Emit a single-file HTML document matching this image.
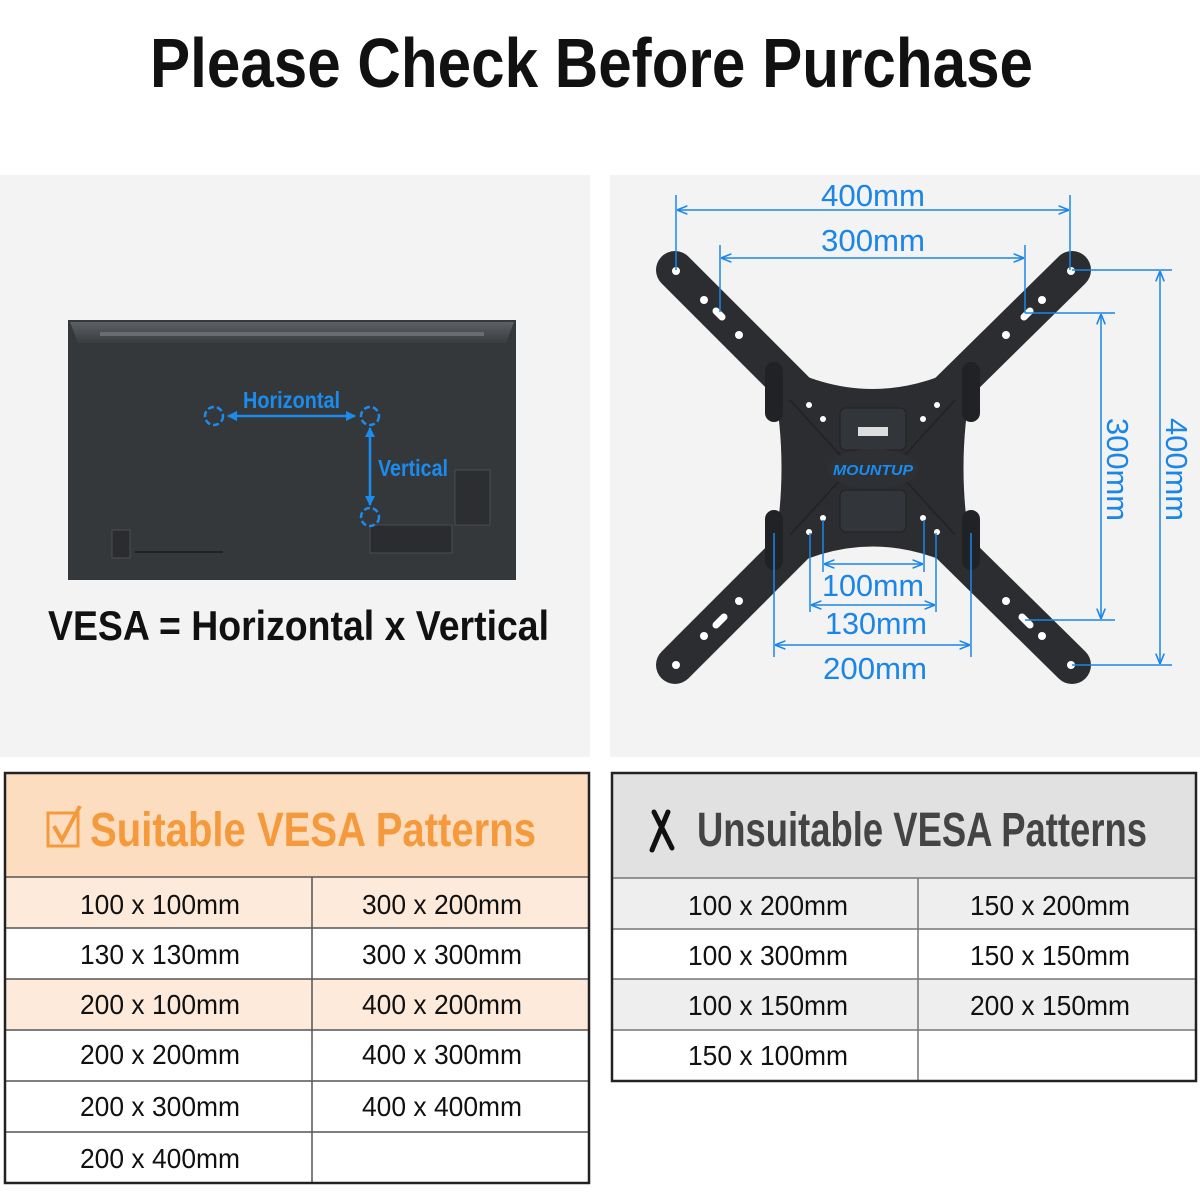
<!DOCTYPE html>
<html><head><meta charset="utf-8"><style>
html,body{margin:0;padding:0;background:#fff;width:1200px;height:1200px;overflow:hidden}
svg text{font-family:"Liberation Sans",sans-serif}
</style></head><body>
<svg width="1200" height="1200" viewBox="0 0 1200 1200" xmlns="http://www.w3.org/2000/svg">
<defs>
<marker id="ar" viewBox="0 0 10 10" refX="9" refY="5" markerWidth="7" markerHeight="7" orient="auto-start-reverse"><path d="M0,1 L10,5 L0,9" fill="none" stroke="#1a86e8" stroke-width="1.5"/></marker>
<marker id="ab" viewBox="0 0 10 10" refX="9" refY="5" markerWidth="4" markerHeight="4" orient="auto-start-reverse"><path d="M0,0 L10,5 L0,10 Z" fill="#1a8cf0"/></marker>
<linearGradient id="tg" x1="0" y1="0" x2="0" y2="1"><stop offset="0" stop-color="#5c5f63"/><stop offset="1" stop-color="#3a3d40"/></linearGradient>
</defs>
<rect width="1200" height="1200" fill="#fff"/>
<text x="150" y="87" font-size="70" font-weight="bold" fill="#111" textLength="883" lengthAdjust="spacingAndGlyphs">Please Check Before Purchase</text>

<rect x="0" y="175" width="590" height="582" fill="#f3f3f3"/>
<rect x="610" y="175" width="590" height="582" fill="#f3f3f3"/>

<!-- TV -->
<rect x="68" y="320" width="448" height="260" fill="#35383b"/>
<path d="M70,322 L514,322 L506,343 L78,343 Z" fill="url(#tg)"/>
<rect x="100" y="332" width="384" height="4" fill="#6a6d70"/>
<rect x="455" y="470" width="35" height="55" fill="#2c2e31" stroke="#4a4d50"/>
<rect x="370" y="525" width="82" height="28" fill="#2a2c2f" stroke="#4a4d50"/>
<rect x="112" y="530" width="18" height="28" fill="#2a2c2f" stroke="#4a4d50"/>
<rect x="135" y="551" width="88" height="2" fill="#222"/>
<g fill="none" stroke="#1a8cf0" stroke-width="2.5" stroke-dasharray="6,3">
<circle cx="214" cy="416" r="9"/><circle cx="370" cy="416" r="9"/><circle cx="370" cy="517" r="9"/>
</g>
<line x1="228" y1="416" x2="355" y2="416" stroke="#1a8cf0" stroke-width="2.5" marker-start="url(#ab)" marker-end="url(#ab)"/>
<line x1="370" y1="428" x2="370" y2="505" stroke="#1a8cf0" stroke-width="2.5" marker-start="url(#ab)" marker-end="url(#ab)"/>
<text x="243" y="408" font-size="23" font-weight="bold" fill="#1a8cf0" textLength="97" lengthAdjust="spacingAndGlyphs">Horizontal</text>
<text x="378" y="476" font-size="23" font-weight="bold" fill="#1a8cf0" textLength="70" lengthAdjust="spacingAndGlyphs">Vertical</text>
<text x="48" y="640" font-size="42" font-weight="bold" fill="#111" textLength="501" lengthAdjust="spacingAndGlyphs">VESA = Horizontal x Vertical</text>

<!-- bracket -->
<g stroke="#2b2d30" stroke-width="38" stroke-linecap="round">
<line x1="800" y1="395" x2="675" y2="270"/><line x1="945" y1="395" x2="1072" y2="270"/>
<line x1="800" y1="540" x2="675" y2="665"/><line x1="945" y1="540" x2="1072" y2="665"/>
</g>
<path d="M768,358 Q873,420 977,358 Q950,468 977,578 Q873,515 768,578 Q795,468 768,358 Z" fill="#2b2d30"/>
<g stroke="#202225" stroke-width="1.5" fill="none">
<path d="M790,400 L840,455 M955,400 L905,455 M790,535 L840,480 M955,535 L905,480"/>
</g>
<rect x="840" y="408" width="66" height="42" rx="6" fill="#323539" stroke="#1f2124"/>
<rect x="858" y="427" width="30" height="9" fill="#ddd"/>
<rect x="840" y="490" width="66" height="42" rx="6" fill="#323539" stroke="#1f2124"/>
<ellipse cx="873" cy="469" rx="45" ry="20" fill="#2e3034"/>
<text x="833" y="475" font-size="15" font-weight="bold" font-style="italic" fill="#1a8cf0" textLength="80" lengthAdjust="spacingAndGlyphs">MOUNTUP</text>
<g fill="#202225"><rect x="765" y="362" width="18" height="60" rx="9"/><rect x="962" y="362" width="18" height="60" rx="9"/><rect x="765" y="510" width="18" height="60" rx="9"/><rect x="962" y="510" width="18" height="60" rx="9"/></g>
<g fill="#fff">
<circle cx="676" cy="271" r="4"/><circle cx="1071" cy="271" r="4"/><circle cx="676" cy="665" r="4"/><circle cx="1071" cy="665" r="4"/>
<circle cx="704" cy="300" r="4"/><circle cx="739" cy="335" r="4"/><circle cx="1042" cy="300" r="4"/><circle cx="1006" cy="335" r="4"/>
<circle cx="704" cy="636" r="4"/><circle cx="739" cy="601" r="4"/><circle cx="1042" cy="636" r="4"/><circle cx="1006" cy="601" r="4"/>
<circle cx="809" cy="405" r="3"/><circle cx="937" cy="405" r="3"/><circle cx="823" cy="419" r="3"/><circle cx="923" cy="419" r="3"/>
<circle cx="823" cy="518" r="3"/><circle cx="923" cy="518" r="3"/><circle cx="809" cy="532" r="3"/><circle cx="937" cy="532" r="3"/>
</g>
<g stroke="#fff" stroke-width="7" stroke-linecap="round"><line x1="716" y1="311" x2="722" y2="317"/><line x1="1030" y1="311" x2="1024" y2="317"/><line x1="716" y1="625" x2="724" y2="617"/><line x1="1030" y1="625" x2="1022" y2="617"/></g>

<!-- dimensions -->
<g stroke="#1a86e8" stroke-width="1.5" fill="none">
<line x1="676" y1="195" x2="676" y2="270"/><line x1="1070" y1="195" x2="1070" y2="270"/>
<line x1="678" y1="210" x2="1068" y2="210" marker-start="url(#ar)" marker-end="url(#ar)"/>
<line x1="720" y1="245" x2="720" y2="312"/><line x1="1025" y1="245" x2="1025" y2="313"/>
<line x1="722" y1="258" x2="1023" y2="258" marker-start="url(#ar)" marker-end="url(#ar)"/>
<line x1="1072" y1="270" x2="1172" y2="270"/><line x1="1072" y1="665" x2="1172" y2="665"/>
<line x1="1160" y1="272" x2="1160" y2="663" marker-start="url(#ar)" marker-end="url(#ar)"/>
<line x1="1025" y1="313" x2="1115" y2="313"/><line x1="1025" y1="620" x2="1115" y2="620"/>
<line x1="1101" y1="315" x2="1101" y2="618" marker-start="url(#ar)" marker-end="url(#ar)"/>
<line x1="823" y1="520" x2="823" y2="572"/><line x1="924" y1="520" x2="924" y2="572"/>
<line x1="825" y1="564" x2="922" y2="564" marker-start="url(#ar)" marker-end="url(#ar)"/>
<line x1="810" y1="533" x2="810" y2="612"/><line x1="936" y1="533" x2="936" y2="612"/>
<line x1="812" y1="605" x2="934" y2="605" marker-start="url(#ar)" marker-end="url(#ar)"/>
<line x1="774" y1="533" x2="774" y2="657"/><line x1="971" y1="533" x2="971" y2="657"/>
<line x1="776" y1="645" x2="969" y2="645" marker-start="url(#ar)" marker-end="url(#ar)"/>
</g>
<g fill="#1a86e8" font-size="31">
<text x="821" y="206" textLength="104" lengthAdjust="spacingAndGlyphs">400mm</text>
<text x="821" y="251" textLength="104" lengthAdjust="spacingAndGlyphs">300mm</text>
<text x="822" y="596" textLength="102" lengthAdjust="spacingAndGlyphs">100mm</text>
<text x="825" y="634" textLength="102" lengthAdjust="spacingAndGlyphs">130mm</text>
<text x="823" y="679" textLength="104" lengthAdjust="spacingAndGlyphs">200mm</text>
<text transform="translate(1166,418) rotate(90)" textLength="103" lengthAdjust="spacingAndGlyphs">400mm</text>
<text transform="translate(1107,418) rotate(90)" textLength="103" lengthAdjust="spacingAndGlyphs">300mm</text>
</g>

<!-- left table -->
<g>
<rect x="6" y="774" width="582" height="103" fill="#fdddbf"/>
<rect x="6" y="877" width="582" height="51" fill="#fdeadb"/>
<rect x="6" y="979" width="582" height="51" fill="#fdeadb"/>
<g stroke="#555" stroke-width="1.5">
<line x1="6" y1="877" x2="588" y2="877"/><line x1="6" y1="928" x2="588" y2="928"/><line x1="6" y1="979" x2="588" y2="979"/>
<line x1="6" y1="1030" x2="588" y2="1030"/><line x1="6" y1="1081" x2="588" y2="1081"/><line x1="6" y1="1132" x2="588" y2="1132"/>
<line x1="312" y1="877" x2="312" y2="1183"/>
</g>
<rect x="5" y="773" width="584" height="410" fill="none" stroke="#222" stroke-width="2.5"/>
<rect x="48" y="813" width="30" height="33" fill="none" stroke="#f59a3c" stroke-width="3"/>
<path d="M54,826 L62,840 L80,806" fill="none" stroke="#f59a3c" stroke-width="4"/>
<text x="90" y="846" font-size="48" font-weight="bold" fill="#f59a3c" textLength="446" lengthAdjust="spacingAndGlyphs">Suitable VESA Patterns</text>
<g font-size="28" fill="#111">
<text x="80" y="914" textLength="160" lengthAdjust="spacingAndGlyphs">100 x 100mm</text><text x="362" y="914" textLength="160" lengthAdjust="spacingAndGlyphs">300 x 200mm</text>
<text x="80" y="964" textLength="160" lengthAdjust="spacingAndGlyphs">130 x 130mm</text><text x="362" y="964" textLength="160" lengthAdjust="spacingAndGlyphs">300 x 300mm</text>
<text x="80" y="1014" textLength="160" lengthAdjust="spacingAndGlyphs">200 x 100mm</text><text x="362" y="1014" textLength="160" lengthAdjust="spacingAndGlyphs">400 x 200mm</text>
<text x="80" y="1064" textLength="160" lengthAdjust="spacingAndGlyphs">200 x 200mm</text><text x="362" y="1064" textLength="160" lengthAdjust="spacingAndGlyphs">400 x 300mm</text>
<text x="80" y="1116" textLength="160" lengthAdjust="spacingAndGlyphs">200 x 300mm</text><text x="362" y="1116" textLength="160" lengthAdjust="spacingAndGlyphs">400 x 400mm</text>
<text x="80" y="1168" textLength="160" lengthAdjust="spacingAndGlyphs">200 x 400mm</text>
</g>
</g>

<!-- right table -->
<g>
<rect x="613" y="774" width="582" height="104" fill="#e1e1e1"/>
<rect x="613" y="878" width="582" height="51" fill="#eeeeee"/>
<rect x="613" y="979" width="582" height="51" fill="#eeeeee"/>
<g stroke="#777" stroke-width="1.5">
<line x1="613" y1="878" x2="1195" y2="878"/><line x1="613" y1="929" x2="1195" y2="929"/><line x1="613" y1="979" x2="1195" y2="979"/>
<line x1="613" y1="1030" x2="1195" y2="1030"/><line x1="918" y1="878" x2="918" y2="1081"/>
</g>
<rect x="612" y="773" width="584" height="308" fill="none" stroke="#222" stroke-width="2.5"/>
<path d="M668,812 L652,850 M654,812 L672,848" stroke="#111" stroke-width="5" stroke-linecap="round"/>
<text x="697" y="846" font-size="48" font-weight="bold" fill="#444" textLength="450" lengthAdjust="spacingAndGlyphs">Unsuitable VESA Patterns</text>
<g font-size="28" fill="#111">
<text x="688" y="915" textLength="160" lengthAdjust="spacingAndGlyphs">100 x 200mm</text><text x="970" y="915" textLength="160" lengthAdjust="spacingAndGlyphs">150 x 200mm</text>
<text x="688" y="965" textLength="160" lengthAdjust="spacingAndGlyphs">100 x 300mm</text><text x="970" y="965" textLength="160" lengthAdjust="spacingAndGlyphs">150 x 150mm</text>
<text x="688" y="1015" textLength="160" lengthAdjust="spacingAndGlyphs">100 x 150mm</text><text x="970" y="1015" textLength="160" lengthAdjust="spacingAndGlyphs">200 x 150mm</text>
<text x="688" y="1065" textLength="160" lengthAdjust="spacingAndGlyphs">150 x 100mm</text>
</g>
</g>
</svg>
</body></html>
